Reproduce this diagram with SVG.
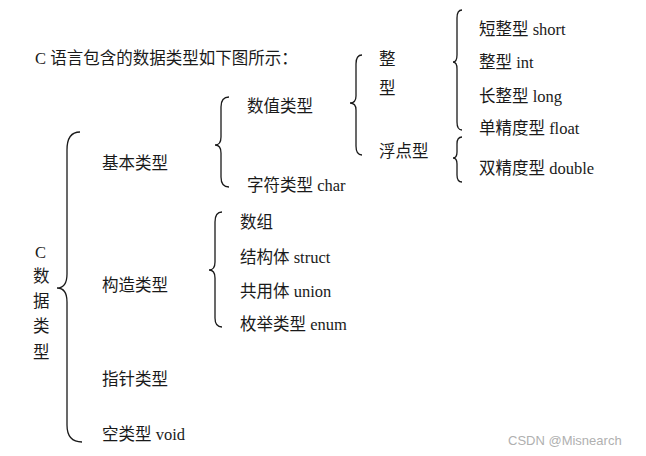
<svg xmlns="http://www.w3.org/2000/svg" width="646" height="456" viewBox="0 0 646 456">
<style>
text{font-family:"Liberation Serif","Noto Sans CJK SC",serif;font-size:16.5px;fill:#1a1a1a}
.b{fill:none;stroke:#1a1a1a;stroke-width:1.3}
.w{font-family:"Liberation Sans","DejaVu Sans",sans-serif;font-size:13px;fill:#b0b0b0}
</style>
<rect width="646" height="456" fill="#fff"/>
<text x="35" y="64">C 语言包含的数据类型如下图所示：</text>
<g id="connectors">
<path class="b" d="M80,132 Q67,132 67,150 L67,274 Q67,288 57,288 Q67,288 67,302 L67,425 Q67,442 82,442"/>
<path class="b" d="M229,97 Q221,97 221,107 L221,137 Q221,145 215,145 Q221,145 221,153 L221,177 Q221,187 229,187"/>
<path class="b" d="M362,55 Q356,55 356,64 L356,96 Q356,103 350,103 Q356,103 356,110 L356,146 Q356,155 362,155"/>
<path class="b" d="M462,10 Q457,10 457,18 L457,55 Q457,62 453,62 Q457,62 457,69 L457,122 Q457,130 462,130"/>
<path class="b" d="M462,137 Q457,137 457,144 L457,152 Q457,158 453,158 Q457,158 457,164 L457,175 Q457,182 462,182"/>
<path class="b" d="M222,212 Q215,212 215,222 L215,262 Q215,270 209,270 Q215,270 215,278 L215,318 Q215,327 222,327"/>
</g>
<g id="root"><text x="35" y="258">C</text><text x="33" y="282">数</text><text x="33" y="307">据</text><text x="33" y="332">类</text><text x="33" y="358">型</text></g>
<g id="basic"><text x="102" y="169">基本类型</text></g>
<g id="numeric"><text x="247" y="112">数值类型</text></g>
<g id="char"><text x="247" y="191">字符类型 char</text></g>
<g id="int"><text x="379" y="65">整</text><text x="379" y="94">型</text></g>
<g id="float"><text x="379" y="157">浮点型</text></g>
<g id="short"><text x="479" y="35">短整型 short</text></g>
<g id="intt"><text x="479" y="68">整型 int</text></g>
<g id="long"><text x="479" y="102">长整型 long</text></g>
<g id="single"><text x="479" y="134">单精度型 float</text></g>
<g id="double"><text x="479" y="174">双精度型 double</text></g>
<g id="construct"><text x="102" y="291">构造类型</text></g>
<g id="array"><text x="240" y="228">数组</text></g>
<g id="struct"><text x="240" y="263">结构体 struct</text></g>
<g id="union"><text x="240" y="297">共用体 union</text></g>
<g id="enum"><text x="240" y="330">枚举类型 enum</text></g>
<g id="pointer"><text x="102" y="385">指针类型</text></g>
<g id="void"><text x="102" y="440">空类型 void</text></g>
<text class="w" x="508" y="445">CSDN @Misnearch</text>
</svg>
